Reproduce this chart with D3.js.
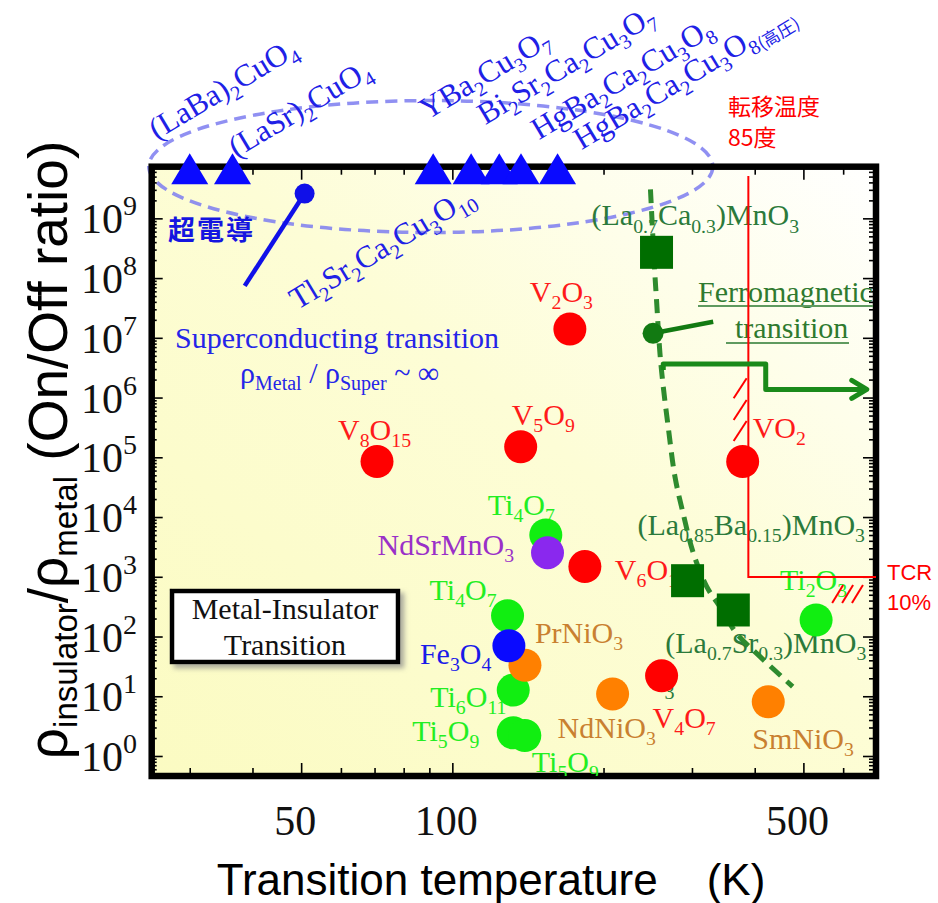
<!DOCTYPE html>
<html>
<head>
<meta charset="utf-8">
<script src="https://cdn.jsdelivr.net/npm/d3@7"></script>
<style>
  body { margin: 0; background: #fff; }
  svg { display: block; }
  text { white-space: pre; }
</style>
</head>
<body>
<svg id="chart" width="938" height="903"></svg>
<script>
// ---------------- data ----------------
const tempMajor = [50, 100, 500];
const tempMinor = [30, 40, 60, 70, 80, 90, 200, 300, 400, 600];
const ratioExponents = [0, 1, 2, 3, 4, 5, 6, 7, 8, 9];

// superconductors: ratio ~ infinite, drawn on the top edge
const scNames = ["(LaBa)2CuO4", "(LaSr)2CuO4", "YBa2Cu3O7", "Bi2Sr2Ca2Cu3O7",
                 "Tl2Sr2Ca2Cu3O10", "HgBa2Ca2Cu3O8", "HgBa2Ca2Cu3O8(高圧)"];
const scTemps = [30, 36.5, 91.6, 109, 124, 137, 162];
const scRatio = 6.4e9;

const vNames = ["V8O15", "V5O9", "V2O3", "VO2", "V6O13", "V4O7"];
const vTemps = [70.8, 136.8, 171.4, 378.5, 183.6, 261];
const vRatios = [8.5e4, 1.5e5, 1.4e7, 8.5e4, 1.48e3, 22];

const tiNames = ["Ti4O7", "Ti4O7", "Ti6O11", "Ti5O9", "Ti5O9", "Ti2O3"];
const tiTemps = [153.5, 128.8, 132.2, 132.2, 139.4, 530];
const tiRatios = [5.0e3, 223, 12.7, 2.45, 2.2, 189];

const niNames = ["PrNiO3", "NdNiO3", "SmNiO3"];
const niTemps = [139.5, 208.5, 425.6];
const niRatios = [33, 10.9, 8.1];

const feNames = ["Fe3O4"];
const feTemps = [129.6];
const feRatios = [70];

const ndsrNames = ["NdSrMnO3"];
const ndsrTemps = [154.7];
const ndsrRatios = [2530];

const mnNames = ["(La0.7Ca0.3)MnO3", "(La0.85Ba0.15)MnO3", "(La0.7Sr0.3)MnO3"];
const mnTemps = [255, 294, 362.6];
const mnRatios = [2.7e8, 860, 278];

// ferromagnetic transition guide (dashed curve)
const ferroTemps = [248, 253, 255, 259, 263, 269, 277.5, 288, 302, 321, 341, 368, 410, 476];
const ferroRatios = [3.06e9, 1.22e8, 4.3e7, 5.6e6, 1.52e6, 3.25e5, 4.73e4, 1.16e4, 2470, 682, 316, 113, 46, 14.5];

// annotation markers / guides
const scPointer = [[50.8, 2.6e9], [38.6, 7.4e7]];
const ferroPointer = [[251, 1.19e7], [330.7, 1.86e7]];
const ferroArrow = [[263, 2.9e6], [263, 3.65e6], [420.7, 3.65e6], [420.7, 1.37e6], [668.6, 1.37e6]];
const tcrLine = [[388.5, 5.1e9], [388.5, 990], [697.5, 990]];
const tcrHashV = [[385.5, 2.1e6], [385.5, 9.1e5], [385.5, 4.05e5]];
const tcrHashH = [[600, 728], [628, 728], [657, 728]];
const ellipseCenter = [90.6, 7.5e9];

// ---------------- layout ----------------
const svg = d3.select("#chart");
const serif = "'Liberation Serif', 'Times New Roman', serif";
const sans = "'Liberation Sans', Arial, sans-serif";
const cjk = "'Noto Sans CJK JP', 'Noto Sans CJK SC', sans-serif";
const plot = { left: 151.7, right: 876, top: 166.7, bottom: 776 };

const x = d3.scaleLog().domain([25.2, 697.5]).range([plot.left, plot.right]);
const y = d3.scaleLog().domain([0.4625, 7.32e9]).range([plot.bottom, plot.top]);

// label offsets (px, from marker centre to start of baseline)
const scOff = [[-33, -30], [4, -12], [-6, -50], [14, -45], [-202, 140], [18, -30], [24, -20]];
const vOff = [[-39, -22], [-9, -22], [-40, -27], [10, -24], [30, 13], [-9, 52]];
const tiOff = [[-58, -20], [-78, -16], [-83, 17], [-101, 8], [7, 36], [-36, -30]];
const niOff = [[10, -22], [-55, 44], [-16, 47]];
const feOff = [[-89, 18]];
const ndsrOff = [[-170, 2]];
const mnOff = [[-65, -27], [-50, -46], [-68, 43]];

// ---------------- helpers ----------------
function chem(sel, str, size) {
  const parts = str.split(/(\d+(?:\.\d+)?|\(高圧\))/).filter(s => s.length);
  let inSub = false;
  parts.forEach(p => {
    const isSub = /^(\d|\(高)/.test(p);
    const ts = sel.append("tspan").text(p);
    if (isSub) {
      ts.attr("font-size", size * 0.66);
      if (p.startsWith("(高")) ts.attr("font-family", cjk).attr("font-size", size * 0.55);
      if (!inSub) ts.attr("dy", size * 0.24);
      inSub = true;
    } else {
      if (inSub) ts.attr("dy", -size * 0.24);
      inSub = false;
    }
  });
  return sel;
}

const defs = svg.append("defs");
const grad = defs.append("linearGradient").attr("id", "bg")
  .attr("x1", 0).attr("y1", 1).attr("x2", 1).attr("y2", 0);
grad.append("stop").attr("offset", 0).attr("stop-color", "#fbfbc2");
grad.append("stop").attr("offset", 0.55).attr("stop-color", "#fdfdd6");
grad.append("stop").attr("offset", 1).attr("stop-color", "#ffffff");
defs.append("clipPath").attr("id", "plotclip").append("rect")
  .attr("x", plot.left).attr("y", plot.top)
  .attr("width", plot.right - plot.left - 3).attr("height", plot.bottom - plot.top);
const shadow = defs.append("filter").attr("id", "shadow")
  .attr("x", -0.1).attr("y", -0.2).attr("width", 1.3).attr("height", 1.5);
shadow.append("feDropShadow").attr("dx", 4).attr("dy", 4)
  .attr("stdDeviation", 2.5).attr("flood-color", "#888").attr("flood-opacity", 0.7);

// background
svg.append("rect")
  .attr("x", plot.left).attr("y", plot.top)
  .attr("width", plot.right - plot.left).attr("height", plot.bottom - plot.top)
  .attr("fill", "url(#bg)");

// superconductor ellipse
svg.append("ellipse")
  .attr("cx", x(ellipseCenter[0])).attr("cy", y(ellipseCenter[1]) + 0.5)
  .attr("rx", 282).attr("ry", 66)
  .attr("fill", "none").attr("stroke", "#7c7cf0").attr("stroke-opacity", 0.85)
  .attr("stroke-width", 3.5).attr("stroke-dasharray", "12,7");

// ticks
const ratioMinor = [];
[-1, 0, 1, 2, 3, 4, 5, 6, 7, 8, 9].forEach(e => {
  [2, 3, 4, 5, 6, 7, 8, 9].forEach(m => {
    const v = m * Math.pow(10, e);
    if (v > y.domain()[0] && v < y.domain()[1]) ratioMinor.push(v);
  });
});
const ratioMajor = ratioExponents.map(e => Math.pow(10, e));

function tickAxis(axisFn, scale, values, size, tx, ty) {
  const g = svg.append("g").attr("transform", `translate(${tx},${ty})`)
    .call(axisFn(scale).tickValues(values).tickSize(size).tickFormat(""));
  g.select(".domain").remove();
  g.selectAll(".tick line").attr("stroke", "#000").attr("stroke-width", 1.6);
  return g;
}
tickAxis(d3.axisBottom, x, tempMajor, -13, 0, plot.bottom);
tickAxis(d3.axisBottom, x, tempMinor, -8, 0, plot.bottom);
tickAxis(d3.axisTop, x, tempMajor, -13, 0, plot.top);
tickAxis(d3.axisTop, x, tempMinor, -8, 0, plot.top);
tickAxis(d3.axisLeft, y, ratioMajor, -11, plot.left, 0);
tickAxis(d3.axisLeft, y, ratioMinor, -5, plot.left, 0);
tickAxis(d3.axisRight, y, ratioMajor, -13, plot.right, 0);
tickAxis(d3.axisRight, y, ratioMinor, -7, plot.right, 0);

// frame
svg.append("rect")
  .attr("x", plot.left).attr("y", plot.top)
  .attr("width", plot.right - plot.left).attr("height", plot.bottom - plot.top)
  .attr("fill", "none").attr("stroke", "#000").attr("stroke-width", 6.5);

// y tick labels 10^n
const yLab = svg.append("g").attr("font-family", serif).attr("fill", "#111");
ratioExponents.forEach(e => {
  const t = yLab.append("text")
    .attr("x", 137).attr("y", y(Math.pow(10, e)) + 15)
    .attr("text-anchor", "end").attr("font-size", 42);
  t.append("tspan").text("10");
  t.append("tspan").text(e).attr("font-size", 28).attr("dy", -18);
});

// x tick labels
svg.append("g").attr("font-family", serif).attr("fill", "#111")
  .selectAll("text").data(tempMajor).enter().append("text")
  .attr("x", d => x(d) - 6).attr("y", 835)
  .attr("text-anchor", "middle").attr("font-size", 42)
  .text(d => d);

// axis titles
svg.append("text")
  .attr("x", 491).attr("y", 895)
  .attr("text-anchor", "middle")
  .attr("font-family", sans).attr("font-size", 44)
  .text("Transition temperature    (K)");

const yt = svg.append("text")
  .attr("transform", "translate(67,450) rotate(-90)")
  .attr("text-anchor", "middle")
  .attr("font-family", sans).attr("font-size", 55);
yt.append("tspan").text("ρ");
yt.append("tspan").text("insulator").attr("font-size", 33).attr("dy", 10);
yt.append("tspan").text("/ρ").attr("dy", -10);
yt.append("tspan").text("metal").attr("font-size", 33).attr("dy", 10);
yt.append("tspan").text(" (On/Off ratio)").attr("dy", -10);

// ---------------- labels inside plot (clipped) ----------------
const labels = svg.append("g").attr("clip-path", "url(#plotclip)")
  .attr("font-family", serif);

function groupLabels(names, temps, ratios, offs, color) {
  names.forEach((n, i) => {
    const t = labels.append("text")
      .attr("x", x(temps[i]) + offs[i][0])
      .attr("y", y(ratios[i]) + offs[i][1])
      .attr("font-size", 30).attr("fill", color);
    chem(t, n, 30);
  });
}
groupLabels(vNames, vTemps, vRatios, vOff, "#ff1a1a");
groupLabels(tiNames, tiTemps, tiRatios, tiOff, "#22ee22");
groupLabels(niNames, niTemps, niRatios, niOff, "#c98030");
groupLabels(feNames, feTemps, feRatios, feOff, "#1a1ae8");
groupLabels(ndsrNames, ndsrTemps, ndsrRatios, ndsrOff, "#9a30c8");
groupLabels(mnNames, mnTemps, mnRatios, mnOff, "#2b7a3b");
// stray subscript below V4O7
labels.append("text")
  .attr("x", x(vTemps[5]) + 3).attr("y", y(vRatios[5]) + 23)
  .attr("font-size", 20).attr("fill", "#2b7a3b").text("3");

// superconducting text
labels.append("text").attr("x", 175).attr("y", 348)
  .attr("font-size", 30).attr("fill", "#2525e8")
  .text("Superconducting transition");
const rho = labels.append("text").attr("x", 240).attr("y", 383)
  .attr("font-size", 30).attr("fill", "#2525e8");
rho.append("tspan").text("ρ");
rho.append("tspan").text("Metal").attr("font-size", 20).attr("dy", 7);
rho.append("tspan").text(" / ρ").attr("dy", -7);
rho.append("tspan").text("Super").attr("font-size", 20).attr("dy", 7);
rho.append("tspan").text(" ~ ∞").attr("dy", -7);

labels.append("text").attr("x", 168).attr("y", 240)
  .attr("font-family", cjk).attr("font-weight", "bold")
  .attr("font-size", 27).attr("fill", "#1515e0")
  .attr("letter-spacing", 2)
  .text("超電導");

// ferromagnetic label
const fmColor = "#2f7a2f";
labels.append("text").attr("x", 698).attr("y", 302)
  .attr("font-size", 30).attr("fill", fmColor).text("Ferromagnetic");
labels.append("text").attr("x", 735).attr("y", 338)
  .attr("font-size", 30).attr("fill", fmColor).text("transition");
labels.append("line").attr("x1", 698).attr("x2", 880).attr("y1", 306).attr("y2", 306)
  .attr("stroke", "#5f9a5f").attr("stroke-width", 2);
labels.append("line").attr("x1", 726).attr("x2", 849).attr("y1", 343).attr("y2", 343)
  .attr("stroke", "#5f9a5f").attr("stroke-width", 2);

// metal-insulator box
svg.append("rect").attr("x", 172).attr("y", 591).attr("width", 226).attr("height", 71)
  .attr("fill", "#fff").attr("stroke", "#000").attr("stroke-width", 4.5)
  .attr("filter", "url(#shadow)");
svg.append("text").attr("x", 285).attr("y", 619).attr("text-anchor", "middle")
  .attr("font-family", serif).attr("font-size", 30).attr("fill", "#111")
  .text("Metal-Insulator");
svg.append("text").attr("x", 285).attr("y", 655).attr("text-anchor", "middle")
  .attr("font-family", serif).attr("font-size", 30).attr("fill", "#111")
  .text("Transition");

// ---------------- guide lines ----------------
const line = d3.line().x(d => x(d[0])).y(d => y(d[1]));

svg.append("path")
  .datum(tcrLine)
  .attr("d", line).attr("fill", "none")
  .attr("stroke", "#ff0000").attr("stroke-width", 2);
svg.append("g").selectAll("line").data(tcrHashV).enter().append("line")
  .attr("x1", d => x(d[0]) - 13).attr("y1", d => y(d[1]) + 20)
  .attr("x2", d => x(d[0])).attr("y2", d => y(d[1]))
  .attr("stroke", "#ff0000").attr("stroke-width", 2);
svg.append("g").selectAll("line").data(tcrHashH).enter().append("line")
  .attr("x1", d => x(d[0]) - 11).attr("y1", d => y(d[1]) + 18)
  .attr("x2", d => x(d[0])).attr("y2", d => y(d[1]))
  .attr("stroke", "#ff0000").attr("stroke-width", 2);

svg.append("path")
  .datum(ferroTemps.map((t, i) => [t, ferroRatios[i]]))
  .attr("d", line.curve(d3.curveCatmullRom))
  .attr("fill", "none").attr("stroke", "#2e8b2e").attr("stroke-width", 5)
  .attr("stroke-dasharray", "14,8");
line.curve(d3.curveLinear);

svg.append("path")
  .datum(ferroArrow)
  .attr("d", line).attr("fill", "none")
  .attr("stroke", "#1a8a1a").attr("stroke-width", 5).attr("stroke-linejoin", "round");
const tip = ferroArrow[ferroArrow.length - 1];
svg.append("path")
  .attr("d", `M${x(tip[0]) - 15},${y(tip[1]) - 9} L${x(tip[0])},${y(tip[1])} L${x(tip[0]) - 15},${y(tip[1]) + 9}`)
  .attr("fill", "none").attr("stroke", "#1a8a1a").attr("stroke-width", 5)
  .attr("stroke-linecap", "round").attr("stroke-linejoin", "round");

svg.append("path").datum(ferroPointer).attr("d", line)
  .attr("stroke", "#127a12").attr("stroke-width", 4.5);
svg.append("circle")
  .attr("cx", x(ferroPointer[0][0])).attr("cy", y(ferroPointer[0][1])).attr("r", 10.5)
  .attr("fill", "#127a12");

svg.append("path").datum(scPointer).attr("d", line)
  .attr("stroke", "#1010e8").attr("stroke-width", 4.5);
svg.append("circle")
  .attr("cx", x(scPointer[0][0])).attr("cy", y(scPointer[0][1])).attr("r", 10)
  .attr("fill", "#1010e8");

// ---------------- markers ----------------
function dots(temps, ratios, color) {
  svg.append("g").selectAll("circle").data(temps).enter().append("circle")
    .attr("cx", d => x(d)).attr("cy", (d, i) => y(ratios[i]))
    .attr("r", 16.5).attr("fill", color);
}
dots(vTemps, vRatios, "#ff0000");
dots(tiTemps, tiRatios, "#11ee11");
dots(niTemps, niRatios, "#ff8000");
dots(feTemps, feRatios, "#0a0aff");
dots(ndsrTemps, ndsrRatios, "#8a28ee");

svg.append("g").selectAll("rect").data(mnTemps).enter().append("rect")
  .attr("x", d => x(d) - 16.5).attr("y", (d, i) => y(mnRatios[i]) - 16.5)
  .attr("width", 33).attr("height", 33).attr("fill", "#006e00");

// superconductor triangles
svg.append("g").selectAll("path").data(scTemps).enter().append("path")
  .attr("d", d => {
    const cx = x(d), cy = y(scRatio);
    return `M${cx},${cy - 17} L${cx + 18.5},${cy + 14} L${cx - 18.5},${cy + 14} Z`;
  })
  .attr("fill", "#0a0aff");

// superconductor names (rotated)
scNames.forEach((n, i) => {
  const px = x(scTemps[i]) + scOff[i][0];
  const py = y(scRatio) + scOff[i][1];
  const t = svg.append("text")
    .attr("transform", `translate(${px},${py}) rotate(-31)`)
    .attr("font-family", serif).attr("font-size", 31).attr("fill", "#2020e6");
  chem(t, n, 31);
});

// red annotations outside
const red = svg.append("g").attr("fill", "#ff0000");
red.append("text").attr("x", 728).attr("y", 115)
  .attr("font-family", cjk).attr("font-size", 23).text("転移温度");
red.append("text").attr("x", 728).attr("y", 146)
  .attr("font-family", cjk).attr("font-size", 23).text("85度");
red.append("text").attr("x", 887).attr("y", 580)
  .attr("font-family", sans).attr("font-size", 22).text("TCR");
red.append("text").attr("x", 887).attr("y", 610)
  .attr("font-family", sans).attr("font-size", 22).text("10%");
</script>
</body>
</html>
